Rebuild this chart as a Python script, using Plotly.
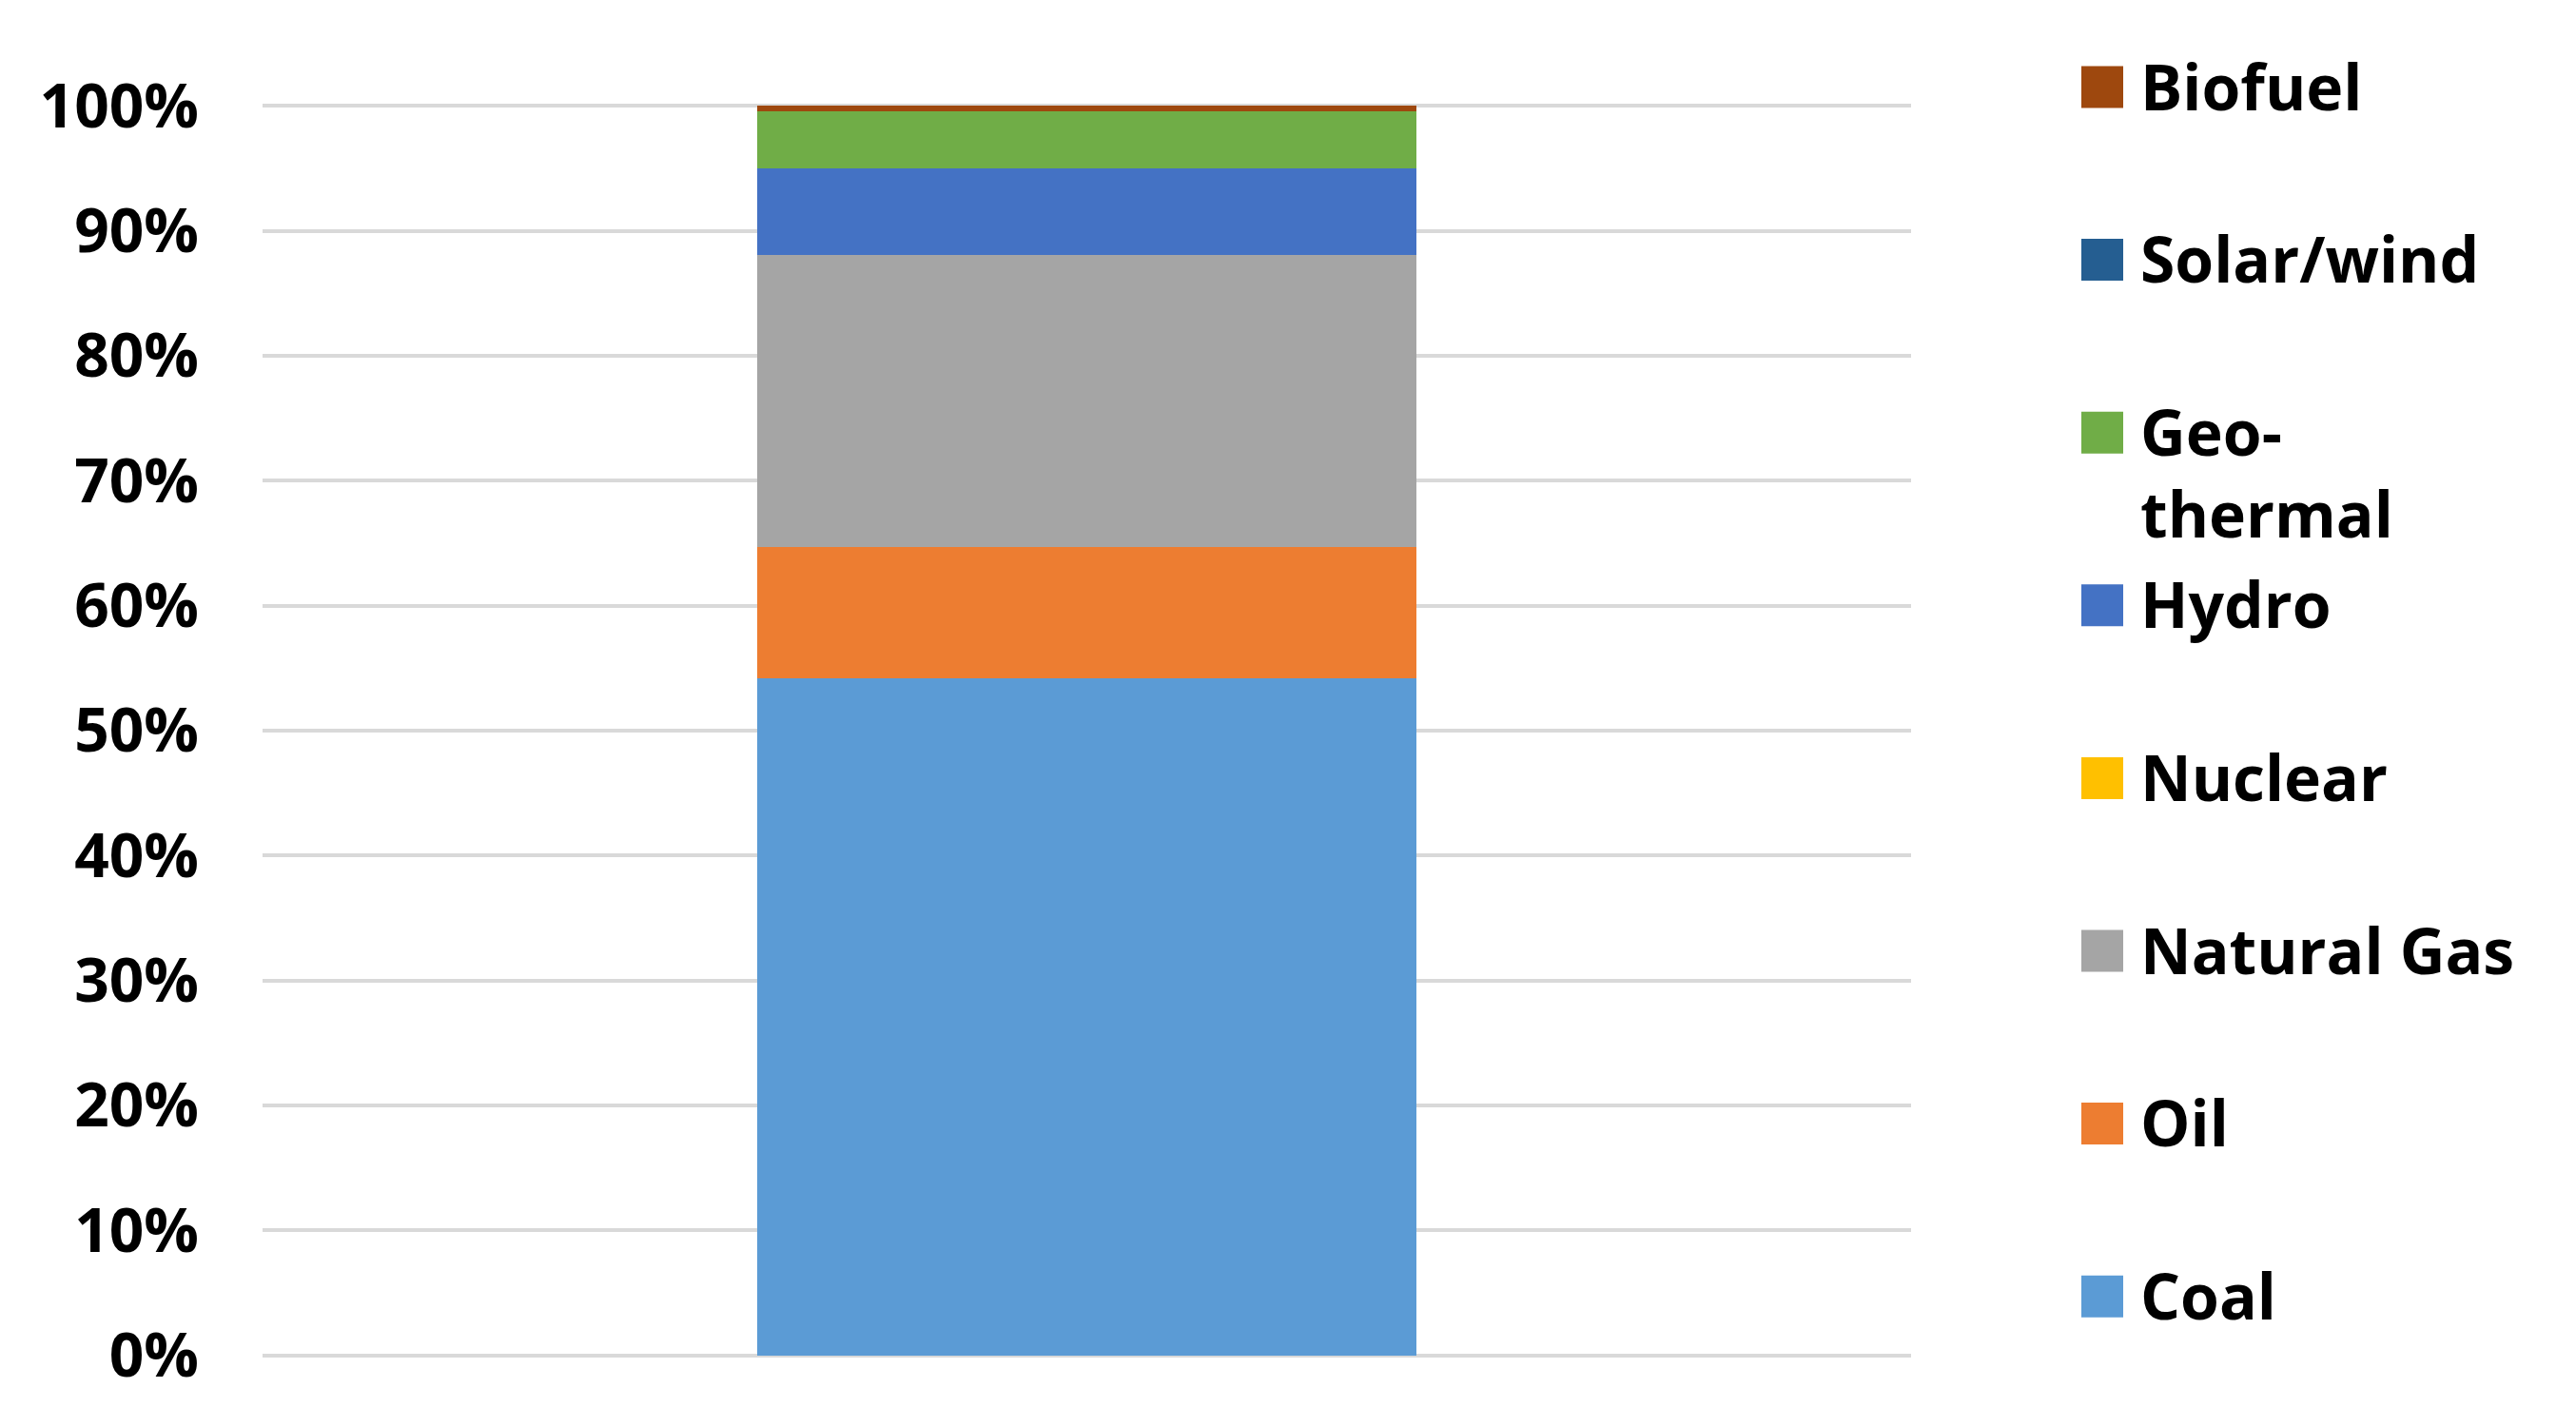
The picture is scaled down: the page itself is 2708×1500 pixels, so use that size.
import plotly.graph_objects as go

category = [""]
sources = ["Coal", "Oil", "Natural Gas", "Nuclear", "Hydro", "Geo-thermal", "Solar/wind", "Biofuel"]
shares = [0.542, 0.105, 0.234, 0.0, 0.069, 0.046, 0.0, 0.004]
colors = ["#5B9BD5", "#ED7D31", "#A5A5A5", "#FFC000", "#4472C4", "#70AD47", "#255E91", "#9E480E"]

W, H = 2708, 1500
L, R, T, B = 276, 699, 110, 74
pw, ph = W - L - R, H - T - B

font = dict(family="Open Sans", size=64, color="black", weight=700)
legend_font = dict(font, size=66)

fig = go.Figure()
for name, share, color in zip(sources, shares, colors):
    fig.add_trace(go.Bar(x=category, y=[share], name=name, marker_color=color,
                         marker_line_width=0, width=0.4, showlegend=False))

# hand-drawn legend so the swatches can be as big as in the original
for i, (name, color) in enumerate(zip(sources[::-1], colors[::-1])):
    cy = 91.5 + i * 181.6
    y = (H - B - cy) / ph
    fig.add_shape(type="rect", xref="paper", yref="paper",
                  x0=(2188 - L) / pw, x1=(2232 - L) / pw,
                  y0=y - 22 / ph, y1=y + 22 / ph,
                  fillcolor=color, line_width=0)
    fig.add_annotation(text=name.replace("-", "-<br>"), xref="paper", yref="paper",
                       x=(2248 - L) / pw, y=y + 49 / ph, xanchor="left", yanchor="top",
                       align="left", showarrow=False, font=legend_font)

fig.update_layout(
    width=W, height=H,
    margin=dict(l=L, r=R, t=T, b=B),
    barmode="stack",
    plot_bgcolor="white", paper_bgcolor="white",
    xaxis=dict(range=[-0.5, 0.5], showticklabels=False, showgrid=False, zeroline=False),
    yaxis=dict(range=[-0.001, 1.001], dtick=0.1, tickformat=".0%", tickfont=font,
               gridcolor="#d9d9d9", gridwidth=3.5, zeroline=False,
               ticks="", ticklabelstandoff=66),
)

fig.write_html("out.html", config={"displayModeBar": False},
               post_script="document.body.style.margin='0';")
